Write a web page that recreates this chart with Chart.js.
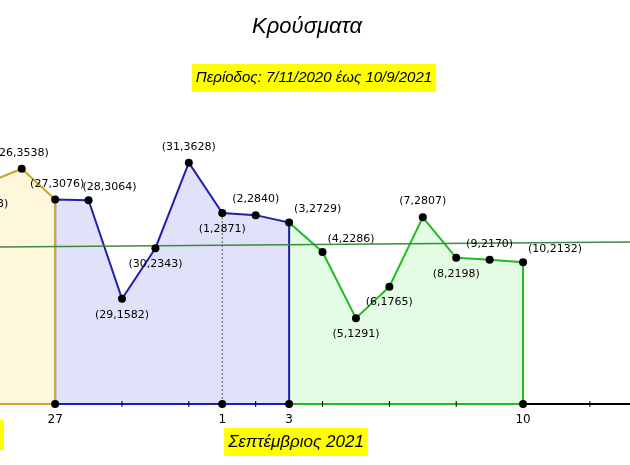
<!DOCTYPE html>
<html>
<head>
<meta charset="utf-8">
<script src="https://cdn.jsdelivr.net/npm/chart.js@4"></script>
<style>
  html, body { margin: 0; padding: 0; background: #fff; }
  #wrap { width: 630px; height: 465px; position: relative; }
</style>
</head>
<body>
<div id="wrap"><canvas id="c" width="630" height="465"></canvas></div>
<script>
// ημέρες (27 Αυγ = 0) και κρούσματα
const days = [-2, -1, 0, 1, 2, 3, 4, 5, 6, 7, 8, 9, 10, 11, 12, 13, 14];
const dayLabels = [25, 26, 27, 28, 29, 30, 31, 1, 2, 3, 4, 5, 6, 7, 8, 9, 10];
const cases = [3333, 3538, 3076, 3064, 1582, 2343, 3628, 2871, 2840, 2729, 2286, 1291, 1765, 2807, 2198, 2170, 2132];
const tickDays = [0, 5, 7, 14];
const tickText = ['27', '1', '3', '10'];
const trendLine = [2361, 2436];
// θέση ετικέτας: a = πάνω, b = κάτω, r = δεξιά
const labelSide = ['l', 'a', 'a', 'a', 'b', 'b', 'a', 'b', 'a', 'r', 'r', 'b', 'b', 'a', 'b', 'a', 'r'];

const xMin = -1.65, xMax = 17.2, yMin = -917, yMax = 6075;

function segment(from, to) {
    const pts = [{ x: days[from], y: 0 }];
    for (let i = from; i <= to; i++) pts.push({ x: days[i], y: cases[i] });
    pts.push({ x: days[to], y: 0 });
    return pts;
}

function area(data, line, fill) {
    return {
        data: data, borderColor: line, backgroundColor: fill, borderWidth: 2,
        fill: 'origin', tension: 0, pointRadius: 0, order: 3
    };
}

const decor = {
    id: 'decor',
    afterDatasetsDraw(chart) {
        const ctx = chart.ctx;
        const xs = chart.scales.x, ys = chart.scales.y;
        const y0 = ys.getPixelForValue(0);
        const X = d => xs.getPixelForValue(d);
        ctx.save();
        // dotted line at 1/9
        ctx.strokeStyle = '#555';
        ctx.lineWidth = 1;
        ctx.setLineDash([2, 2]);
        ctx.beginPath();
        ctx.moveTo(X(5), ys.getPixelForValue(2871));
        ctx.lineTo(X(5), y0);
        ctx.stroke();
        ctx.setLineDash([]);
        // axis
        [[xMin, 0, '#c8a82a'], [0, 7, '#2020b0'], [7, 14, '#22bb22'], [14, xMax, '#000']].forEach(s => {
            ctx.strokeStyle = s[2];
            ctx.lineWidth = 2;
            ctx.beginPath();
            ctx.moveTo(X(s[0]), y0);
            ctx.lineTo(X(s[1]), y0);
            ctx.stroke();
        });
        ctx.strokeStyle = '#000';
        ctx.lineWidth = 1;
        for (let d = -2; d <= 18; d += 2) {
            ctx.beginPath();
            ctx.moveTo(X(d), y0 - 3);
            ctx.lineTo(X(d), y0 + 3);
            ctx.stroke();
        }
        ctx.fillStyle = '#000';
        ctx.font = '12px "DejaVu Sans", sans-serif';
        ctx.textAlign = 'center';
        ctx.textBaseline = 'top';
        tickDays.forEach((d, i) => {
            ctx.fillText(tickText[i], X(d), y0 + 10);
            ctx.beginPath();
            ctx.arc(X(d), y0, 4, 0, Math.PI * 2);
            ctx.fill();
        });
        // points + labels
        ctx.font = '11px "DejaVu Sans", sans-serif';
        days.forEach((d, i) => {
            const px = X(d), py = ys.getPixelForValue(cases[i]);
            ctx.beginPath();
            ctx.arc(px, py, 4, 0, Math.PI * 2);
            ctx.fill();
            const t = '(' + dayLabels[i] + ',' + cases[i] + ')';
            const s = labelSide[i];
            ctx.textBaseline = 'middle';
            if (i === 3) { ctx.textAlign = 'left'; ctx.fillText(t, px - 6, py - 13); }
            else if (i === 2) { ctx.textAlign = 'center'; ctx.fillText(t, px + 2, py - 15); }
            else if (s === 'a') { ctx.textAlign = 'center'; ctx.fillText(t, px, py - 16); }
            else if (s === 'b') { ctx.textAlign = 'center'; ctx.fillText(t, px, py + 16); }
            else if (s === 'r') { ctx.textAlign = 'left'; ctx.fillText(t, px + 5, py - 13); }
            else { ctx.textAlign = 'right'; ctx.fillText(t, px + 20, py + 22); }
        });
        // titles
        ctx.textAlign = 'center';
        ctx.textBaseline = 'middle';
        ctx.font = 'italic 22px "Liberation Sans", sans-serif';
        ctx.fillText('Κρούσματα', 307, 27);
        function box(text, cx, cy, font) {
            ctx.font = font;
            const w = ctx.measureText(text).width + 8;
            ctx.fillStyle = '#ffff00';
            ctx.fillRect(cx - w / 2, cy - 14, w, 28);
            ctx.fillStyle = '#000';
            ctx.fillText(text, cx, cy);
        }
        box('Περίοδος: 7/11/2020 έως 10/9/2021', 314, 78, 'italic 15px "Liberation Sans", sans-serif');
        box('Σεπτέμβριος 2021', 296, 442, 'italic 17px "Liberation Sans", sans-serif');
        ctx.fillStyle = '#ffff00';
        ctx.fillRect(0, 420, 4, 30);
        ctx.restore();
    }
};

new Chart(document.getElementById('c'), {
    type: 'line',
    data: {
        datasets: [
            { data: [{ x: xMin, y: trendLine[0] }, { x: xMax, y: trendLine[1] }],
              borderColor: '#3c8a3c', borderWidth: 1.5, pointRadius: 0, fill: false, order: 1 },
            area(segment(0, 2), '#c8a82a', 'rgba(255,246,215,0.9)'),
            area(segment(2, 9), '#2020b0', 'rgba(222,222,250,0.9)'),
            area(segment(9, 16), '#22bb22', 'rgba(224,252,224,0.9)')
        ]
    },
    options: {
        animation: false,
        responsive: false,
        layout: { padding: 0 },
        plugins: { legend: { display: false }, tooltip: { enabled: false } },
        scales: {
            x: { type: 'linear', min: xMin, max: xMax, display: false },
            y: { type: 'linear', min: yMin, max: yMax, display: false }
        }
    },
    plugins: [decor]
});
</script>
</body>
</html>
